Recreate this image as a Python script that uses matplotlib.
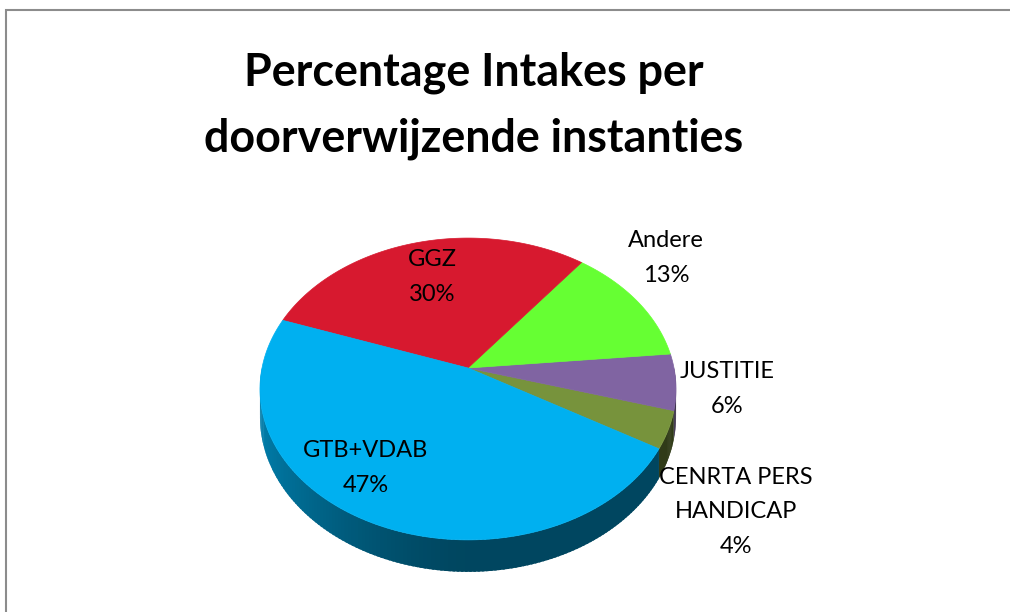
import numpy as np
import matplotlib.pyplot as plt
from matplotlib.colors import to_rgb

# data (counterclockwise from the start angle)
labels = ['CENRTA PERS\nHANDICAP', 'JUSTITIE', 'Andere', 'GGZ', 'GTB+VDAB']
values = [4, 6, 13, 30, 47]
colors = ['#77933c', '#8064a2', '#66ff33', '#d7192f', '#00b0f0']

title_lines = ['Percentage Intakes per', 'doorverwijzende instanties']

# layout (pixels, y down)
label_pos = [(736, 512), (727, 389), (666, 258), (432, 277), (366, 468)]
cx, cy = 468, 368
a, b = 206, 148
persp = 0.139
depth = 27.5
start = -30.5

plt.rcParams['font.family'] = ['Lato', 'DejaVu Sans']

fig = plt.figure(figsize=(10.1, 6.12), dpi=100)
ax = fig.add_axes([0, 0, 1, 1])
ax.set_xlim(0, 1010)
ax.set_ylim(612, 0)
ax.axis('off')


def proj(theta, r=1.0, h=0.0):
    x = r * np.cos(theta)
    z = r * np.sin(theta)
    s = 1 + persp * z
    return cx + a * x / s, cy - b * z / s + h * depth / s


def shade(theta):
    c = -np.cos(theta)
    return 0.40 + 0.32 * np.clip(c, 0, None) ** 1.5


fr = np.array(values) / sum(values)
edges = np.deg2rad(start + 360 * np.concatenate([[0], np.cumsum(fr)]))

# side of the cylinder (front half only)
for i, col in enumerate(colors):
    t1, t2 = edges[i], edges[i + 1]
    rgb = np.array(to_rgb(col))
    for k in range(-1, 2):
        lo = max(t1, np.pi + 2 * np.pi * k)
        hi = min(t2, 2 * np.pi + 2 * np.pi * k)
        if hi <= lo:
            continue
        n = max(2, int(np.degrees(hi - lo)) + 1)
        ts = np.linspace(lo, hi, n)
        step = ts[1] - ts[0]
        for j, (ta, tb) in enumerate(zip(ts[:-1], ts[1:])):
            if j < n - 2:
                tb = tb + 0.6 * step  # overlap to hide seams
            tt = np.linspace(ta, tb, 4)
            xt, yt = proj(tt)
            xbt, ybt = proj(tt[::-1], h=1)
            c = np.clip(rgb * shade((ta + tb) / 2), 0, 1)
            ax.fill(np.r_[xt, xbt], np.r_[yt, ybt], color=c, lw=0)

# top face
for i, col in enumerate(colors):
    ts = np.linspace(edges[i], edges[i + 1], 200)
    xs, ys = proj(ts)
    ax.fill(np.r_[cx, xs], np.r_[cy, ys], color=col, lw=0.5, ec=col)

for lab, v, (x, y) in zip(labels, values, label_pos):
    ax.text(x, y, f'{lab}\n{v}%', ha='center', va='center', fontsize=17,
            linespacing=1.8, color='black')

ax.text(474, 86, title_lines[0], ha='center', va='baseline', fontsize=32.3,
        fontweight='bold')
ax.text(474, 151, title_lines[1], ha='center', va='baseline', fontsize=32.3,
        fontweight='bold')

# chart area border
ax.plot([6, 6, 1012], [640, 10, 10], color='#8c8c8c', lw=1.5,
        solid_joinstyle='miter', clip_on=False)

fig.savefig('out.png', dpi=100)
